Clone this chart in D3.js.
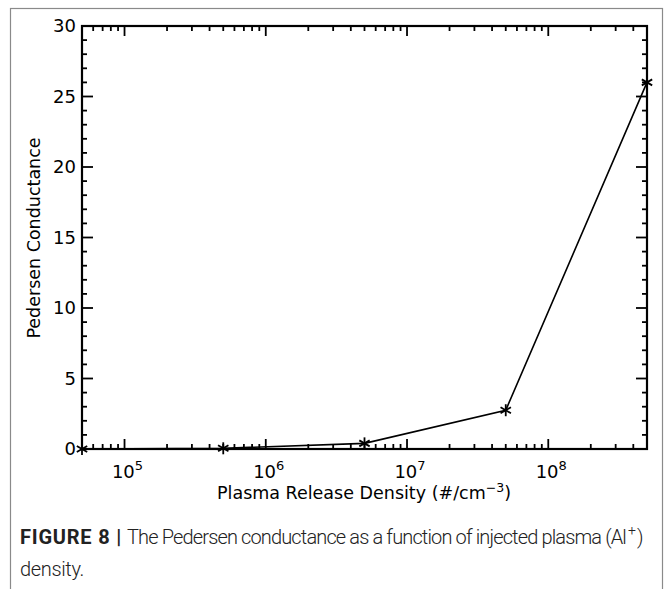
<html>
<head>
  <script src="https://cdn.jsdelivr.net/npm/d3@7"></script>
  <style>
    body { margin: 0; background: #fff; }
  </style>
  <script>
    // data
    var density = [5e4, 5e5, 5e6, 5e7, 5e8];
    var conductance = [0.0, 0.05, 0.4, 2.75, 26.0];
    var yTicks = [0, 5, 10, 15, 20, 25, 30];
    var xDecades = [5, 6, 7, 8];

    window.onload = function () {
      var W = 665, H = 589;
      var left = 82, right = 647, top = 26, bottom = 449;

      var svg = d3.select("body").append("svg").attr("width", W).attr("height", H);

      // outer frame
      svg.append("rect").attr("x", 10.5).attr("y", 8.5).attr("width", 652).attr("height", 600)
        .attr("fill", "none").attr("stroke", "#8a8a8a").attr("stroke-width", 1.2);

      var x = d3.scaleLog().domain([5e4, 5e8]).range([left, right]);
      var y = d3.scaleLinear().domain([0, 30]).range([bottom, top]);

      var g = svg.append("g").attr("stroke", "#000").attr("stroke-width", 1.8);

      // log ticks, major at decades, minor at 2..9
      var minor = [];
      for (var e = 4; e <= 8; e++) {
        for (var m = 2; m <= 9; m++) {
          var v = m * Math.pow(10, e);
          if (v > 5e4 && v < 5e8) minor.push(v);
        }
      }
      var major = xDecades.map(function (d) { return Math.pow(10, d); });

      [bottom, top].forEach(function (yy) {
        var dir = yy === bottom ? -1 : 1;
        major.forEach(function (v) {
          g.append("line").attr("x1", x(v)).attr("x2", x(v)).attr("y1", yy).attr("y2", yy + dir * 10);
        });
        minor.forEach(function (v) {
          g.append("line").attr("x1", x(v)).attr("x2", x(v)).attr("y1", yy).attr("y2", yy + dir * 5);
        });
      });

      var yMinor = d3.range(0, 31).filter(function (d) { return d % 5 !== 0; });
      [left, right].forEach(function (xx) {
        var dir = xx === left ? 1 : -1;
        yTicks.forEach(function (v) {
          g.append("line").attr("x1", xx).attr("x2", xx + dir * 11).attr("y1", y(v)).attr("y2", y(v));
        });
        yMinor.forEach(function (v) {
          g.append("line").attr("x1", xx).attr("x2", xx + dir * 5).attr("y1", y(v)).attr("y2", y(v));
        });
      });

      g.append("rect").attr("x", left).attr("y", top).attr("width", right - left).attr("height", bottom - top)
        .attr("fill", "none").attr("stroke-width", 2.2);

      var font = "DejaVu Sans";

      // y tick labels
      svg.selectAll(".ylab").data(yTicks).enter().append("text")
        .attr("x", left - 6).attr("y", function (d) { return y(d) + 6; })
        .attr("text-anchor", "end").attr("font-family", font).attr("font-size", 18)
        .text(function (d) { return d; });

      // x tick labels with superscript exponents
      xDecades.forEach(function (d) {
        var t = svg.append("text").attr("x", x(Math.pow(10, d)) + 3).attr("y", 478)
          .attr("text-anchor", "middle").attr("font-family", font).attr("font-size", 18);
        t.append("tspan").text("10");
        t.append("tspan").attr("dy", -8).attr("font-size", 13).text(d);
      });

      // axis titles
      var xt = svg.append("text").attr("x", 364).attr("y", 499).attr("text-anchor", "middle")
        .attr("font-family", font).attr("font-size", 17.5);
      xt.append("tspan").text("Plasma Release Density (#/cm");
      xt.append("tspan").attr("dy", -7).attr("font-size", 12.5).text("\u22123");
      xt.append("tspan").attr("dy", 7).text(")");

      svg.append("text").attr("transform", "translate(40,238) rotate(-90)").attr("text-anchor", "middle")
        .attr("font-family", font).attr("font-size", 17.5).text("Pedersen Conductance");

      // data line
      var line = d3.line().x(function (d, i) { return x(density[i]); }).y(function (d) { return y(d); });
      svg.append("path").datum(conductance).attr("d", line)
        .attr("fill", "none").attr("stroke", "#000").attr("stroke-width", 1.6);

      // asterisk markers
      var sg = svg.append("g");
      conductance.forEach(function (v, i) {
        var px = x(density[i]), py = y(v), r = 6;
        [0, 60, 120].forEach(function (a) {
          var rad = (a + 90) * Math.PI / 180;
          sg.append("line")
            .attr("x1", px - r * Math.cos(rad)).attr("y1", py - r * Math.sin(rad))
            .attr("x2", px + r * Math.cos(rad)).attr("y2", py + r * Math.sin(rad))
            .attr("stroke", "#000").attr("stroke-width", 1.8);
        });
      });

      // caption, laid out piece by piece; squeeze with letter-spacing so it fits
      var capFont = "Roboto";
      function fitText(sel, width) {
        var n = sel.text().length;
        var w = sel.node().getComputedTextLength();
        sel.attr("letter-spacing", ((width - w) / n).toFixed(2) + "px");
      }
      var head = svg.append("text").attr("x", 20).attr("y", 544)
        .attr("font-family", capFont).attr("font-size", 20).attr("font-weight", "bold").attr("fill", "#222")
        .text("FIGURE 8 |");
      fitText(head, 102);
      var mainX = 127;
      var main = svg.append("text").attr("x", mainX).attr("y", 544)
        .attr("font-family", capFont).attr("font-size", 20).attr("font-weight", 300).attr("fill", "#222")
        .text("The Pedersen conductance as a function of injected plasma (Al");
      fitText(main, 626 - mainX);
      svg.append("text").attr("x", 628).attr("y", 535)
        .attr("font-family", capFont).attr("font-size", 14).attr("font-weight", 300).attr("fill", "#222")
        .text("+");
      svg.append("text").attr("x", 637).attr("y", 544)
        .attr("font-family", capFont).attr("font-size", 20).attr("font-weight", 300).attr("fill", "#222")
        .text(")");

      var dens = svg.append("text").attr("x", 20).attr("y", 576)
        .attr("font-family", capFont).attr("font-size", 20).attr("font-weight", 300).attr("fill", "#222")
        .text("density.");
      fitText(dens, 64);
    };
  </script>
</head>
<body>
</body>
</html>
